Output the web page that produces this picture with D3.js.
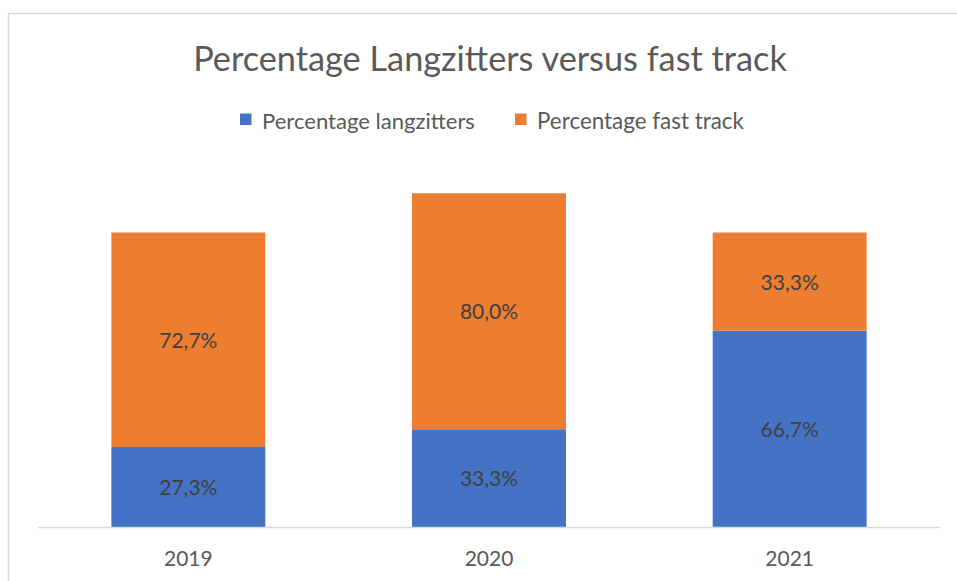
<!DOCTYPE html>
<html>

<head>
  <meta charset="utf-8">
  <title>Percentage Langzitters versus fast track</title>
  <style>
    body {
      margin: 0;
      background: #ffffff;
    }

    svg text {
      font-family: Lato, "Open Sans", sans-serif;
    }
  </style>
</head>

<body>
  <svg></svg>
  <script src="https://cdnjs.cloudflare.com/ajax/libs/d3/7.8.5/d3.min.js"></script>
  <script>
    var width = 957,
      height = 581;

    // data
    var years = ["2019", "2020", "2021"];
    var langzitters = [27.3, 33.3, 66.7];
    var fastTrack = [72.7, 80.0, 33.3];
    var seriesNames = ["Percentage langzitters", "Percentage fast track"];
    var colors = ["#4472c4", "#ed7d31"];
    var chartTitle = "Percentage Langzitters versus fast track";

    var fmt = function (v) { return v.toFixed(1).replace(".", ",") + "%"; };

    // shrink/grow a text node until it is the given width
    function fitWidth(sel, target) {
      var node = sel.node();
      var fs = parseFloat(sel.attr("font-size"));
      var w = node.getComputedTextLength();
      sel.attr("font-size", fs * target / w);
    }

    var svg = d3.select("svg").attr("width", width).attr("height", height);

    // chart border (runs off the right and bottom edge)
    svg.append("rect")
      .attr("x", 8.5).attr("y", 13.5)
      .attr("width", 960).attr("height", 580)
      .attr("fill", "none")
      .attr("stroke", "#d9d9d9")
      .attr("stroke-width", 1.5);

    var x = d3.scaleBand().domain(years).range([38, 940]).paddingInner(0.488).paddingOuter(0.244);
    var y = d3.scaleLinear().domain([0, 120]).range([527.5, 173.5]);

    var rows = years.map(function (yr, i) {
      return { year: yr, langzitters: langzitters[i], fast: fastTrack[i] };
    });
    var stack = d3.stack().keys(["langzitters", "fast"])(rows);

    var layers = svg.selectAll("g.layer").data(stack)
      .enter()
      .append("g")
      .attr("class", "layer")
      .attr("fill", function (d, i) { return colors[i]; });

    layers.selectAll("rect").data(function (d) { return d; })
      .enter()
      .append("rect")
      .attr("x", function (d) { return x(d.data.year); })
      .attr("width", x.bandwidth())
      .attr("y", function (d) { return y(d[1]); })
      .attr("height", function (d) { return y(d[0]) - y(d[1]); });

    layers.selectAll("text").data(function (d) { return d; })
      .enter()
      .append("text")
      .attr("x", function (d) { return x(d.data.year) + x.bandwidth() / 2; })
      .attr("y", function (d) { return (y(d[0]) + y(d[1])) / 2 + 8; })
      .attr("text-anchor", "middle")
      .attr("font-size", 21)
      .attr("fill", "#404040")
      .text(function (d) { return fmt(d[1] - d[0]); });

    // category axis
    var axis = svg.append("g")
      .attr("transform", "translate(0," + 527.5 + ")")
      .call(d3.axisBottom(x).tickSize(0).tickPadding(0));
    axis.select(".domain").attr("stroke", "#d9d9d9").attr("stroke-width", 1.5)
      .attr("d", "M38,0H940");
    axis.selectAll("text")
      .attr("font-size", 21)
      .attr("fill", "#595959")
      .attr("dy", 0)
      .attr("y", 38.5)
      .style("font-family", "Lato, 'Open Sans', sans-serif");

    // title
    var title = svg.append("text")
      .attr("x", 490).attr("y", 71)
      .attr("text-anchor", "middle")
      .attr("font-size", 36)
      .attr("fill", "#595959")
      .text(chartTitle);
    fitWidth(title, 594);

    // legend
    var legendX = [240, 515];
    var legendW = [213, 207];
    var legend = svg.selectAll("g.legend").data(seriesNames)
      .enter()
      .append("g")
      .attr("class", "legend")
      .attr("transform", function (d, i) { return "translate(" + legendX[i] + ",0)"; });
    legend.append("rect")
      .attr("x", 0).attr("y", 113.5)
      .attr("width", 11.5).attr("height", 11.5)
      .attr("fill", function (d, i) { return colors[i]; });
    legend.append("text")
      .attr("x", 22).attr("y", 129)
      .attr("font-size", 21)
      .attr("fill", "#595959")
      .text(function (d) { return d; })
      .each(function (d, i) { fitWidth(d3.select(this), legendW[i]); });
  </script>
</body>

</html>
